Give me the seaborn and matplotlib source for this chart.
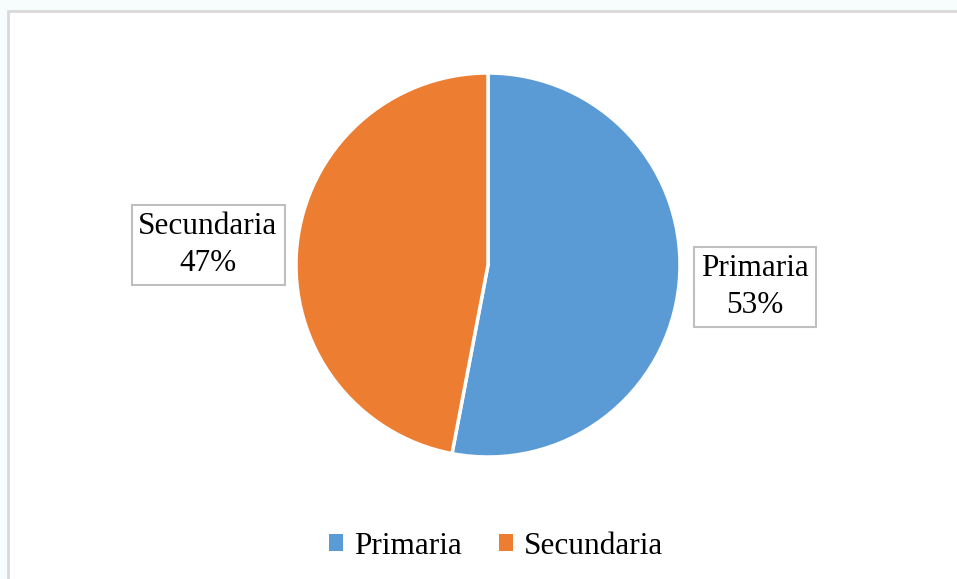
import matplotlib
matplotlib.use("Agg")
import matplotlib.pyplot as plt
import seaborn as sns
from matplotlib.patches import Patch, Rectangle

# Data
categories = ["Primaria", "Secundaria"]
values = [53, 47]
label_text = ["Primaria\n53%", "Secundaria\n47%"]

sns.set_theme(style="white")
plt.rcParams['font.family'] = ['Liberation Serif', 'DejaVu Serif']
plt.rcParams['text.color'] = 'black'

colors = sns.color_palette(["#5B9BD5", "#ED7D31"])

W, H = 957, 579
fig = plt.figure(figsize=(W / 100, H / 100), dpi=100, facecolor="#F7FCFD")
ax = fig.add_axes([0, 0, 1, 1])

# chart area with light gray border
ax.add_patch(Rectangle((8, -5), W + 10, H - 11 + 5, facecolor="white",
                       edgecolor="#D9D9D9", linewidth=2, zorder=0))

cx, cy, r = 488, H - 265, 192
wedges, _ = ax.pie(values, colors=colors, startangle=90, counterclock=False,
                   center=(cx, cy), radius=r, frame=True,
                   wedgeprops=dict(edgecolor="white", linewidth=2.5))
ax.set_xlim(0, W)
ax.set_ylim(0, H)
ax.set_aspect("equal")
ax.axis("off")

# data labels in boxes
label_pos = [(755, H - 287), (208, H - 245)]
for (x, y), txt in zip(label_pos, label_text):
    ax.text(x, y, txt, ha="center", va="center", fontsize=22.5, color="black",
            linespacing=1.4,
            bbox=dict(boxstyle="square,pad=0.22", facecolor="white",
                      edgecolor="#BFBFBF", linewidth=1.5))

handles = [Patch(facecolor=c, edgecolor="none") for c in colors]
leg = ax.legend(handles, categories, loc="center", bbox_to_anchor=(496 / W, 1 - 546 / H),
                ncol=2, frameon=False, fontsize=22.5, handlelength=0.45, handleheight=0.45,
                handletextpad=0.35, columnspacing=1.2)
for t in leg.get_texts():
    t.set_color("black")

fig.savefig("out.png", dpi=100, facecolor=fig.get_facecolor())
